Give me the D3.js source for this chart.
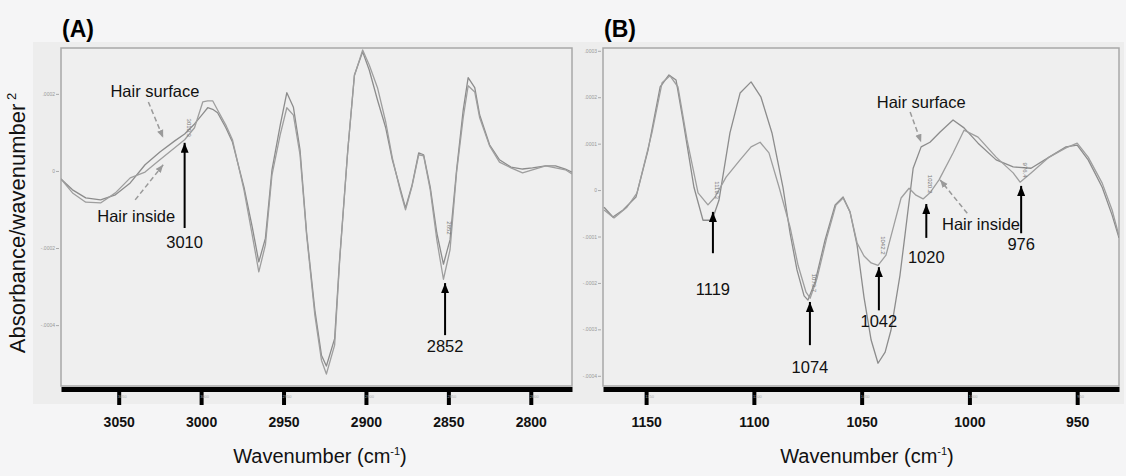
<!DOCTYPE html>
<html>
<head>
<meta charset="utf-8">
<script src="https://cdn.jsdelivr.net/npm/d3@7"></script>
<style>
  body { margin: 0; background: #f5f5f6; }
  svg { display: block; font-family: "Liberation Sans", Arial, Helvetica, sans-serif; }
</style>
</head>
<body>
<script>
//values of the second derivative spectra are kept in units of 1e-4

//panel A: wavenumbers (cm-1) shared by both spectra
var wnA = [3085,3078,3070,3061,3052,3043,3034,3025,3016,3010,3004,2999,2996,2993,2990,2985,2981,2974,2969,2965,
           2961,2957,2952,2948,2944,2940,2936,2931,2927,2924,2919,2916,2911,2907,2902,2898,2893,2888,2884,2879,
           2876,2872,2868,2865,2861,2857,2853,2849,2845,2841,2838,2834,2831,2825,2819,2812,2805,2799,2791,2785,
           2779,2775];
var surfaceA = [-0.21,-0.49,-0.70,-0.75,-0.62,-0.31,0.16,0.49,0.78,0.96,1.22,1.48,1.64,1.60,1.51,1.12,0.75,-0.42,-1.45,-2.36,
                -1.75,0.03,1.19,2.03,1.65,0.55,-1.61,-3.61,-4.78,-5.06,-4.35,-2.31,0.55,2.49,3.09,2.62,1.84,1.12,0.29,-0.49,
                -0.96,-0.36,0.47,0.42,-0.42,-1.61,-2.42,-1.79,0.03,1.58,2.42,2.16,1.45,0.68,0.29,0.10,0.05,0.08,0.13,0.13,
                0.05,-0.03];
var insideA = [-0.21,-0.57,-0.81,-0.83,-0.57,-0.18,-0.03,0.29,0.60,0.81,1.12,1.79,1.82,1.82,1.58,1.19,0.81,-0.49,-1.66,-2.62,
               -1.92,-0.10,0.94,1.64,1.45,0.42,-1.66,-3.74,-4.91,-5.27,-4.52,-2.36,0.55,2.47,3.14,2.75,2.16,1.27,0.34,-0.55,
               -1.01,-0.39,0.42,0.39,-0.49,-1.79,-2.81,-2.05,-0.03,1.38,2.21,2.05,1.38,0.65,0.23,0.08,-0.05,0.03,0.13,0.08,
               0.03,-0.08];

//panel B: [wavenumber, value] pairs
var surfaceB = [[1169.5,-0.37],[1165.4,-0.58],[1160.7,-0.43],[1154.7,-0.15],[1149.1,0.86],[1143.5,2.22],[1139.4,2.48],
                [1136.1,2.37],[1132.9,1.51],[1127.8,0.06],[1123.6,-0.65],[1119.4,-0.65],[1116.2,-0.22],[1111.1,1.23],
                [1106.4,2.09],[1101.3,2.33],[1096.7,2.00],[1091.6,1.23],[1086.5,0.06],[1083.2,-0.93],[1080.0,-1.72],
                [1076.7,-2.28],[1074.9,-2.37],[1071.6,-1.98],[1067.0,-1.08],[1062.3,-0.32],[1058.6,-0.15],[1055.4,-0.47],
                [1052.1,-1.19],[1048.9,-2.31],[1045.6,-3.23],[1042.4,-3.73],[1039.1,-3.49],[1036.4,-3.02],[1032.2,-1.83],
                [1029.9,-0.97],[1026.1,0.47],[1022.4,0.93],[1018.3,1.03],[1013.6,1.25],[1007.6,1.51],[1002.5,1.34],
                [996.0,1.01],[987.6,0.65],[979.7,0.50],[971.4,0.47],[963.0,0.71],[955.2,0.93],[950.0,0.97],
                [944.9,0.65],[938.4,0.06],[933.8,-0.54],[930.6,-1.03]];
var insideB = [[1169.5,-0.43],[1164.9,-0.60],[1158.9,-0.37],[1154.2,-0.06],[1147.3,1.23],[1142.6,2.31],[1138.9,2.46],
               [1135.2,2.22],[1131.0,1.08],[1125.9,-0.06],[1121.3,-0.32],[1118.0,-0.15],[1112.9,0.28],[1106.4,0.65],
               [1101.3,0.93],[1097.1,1.03],[1093.0,0.80],[1088.3,0.06],[1083.2,-0.80],[1079.5,-1.62],[1075.8,-2.20],
               [1073.9,-2.33],[1070.7,-1.90],[1066.1,-1.01],[1061.9,-0.32],[1058.6,-0.17],[1055.4,-0.47],[1052.1,-1.14],
               [1048.9,-1.42],[1045.6,-1.57],[1042.4,-1.62],[1038.7,-1.40],[1035.0,-0.75],[1031.7,-0.17],[1028.0,0.04],
               [1024.8,-0.11],[1021.5,-0.19],[1018.3,-0.06],[1014.1,0.22],[1007.6,0.80],[1002.5,1.29],[996.0,1.14],
               [987.6,0.71],[979.7,0.37],[976.5,0.17],[971.4,0.37],[963.0,0.71],[955.2,0.91],[950.0,1.01],
               [944.9,0.71],[938.4,0.15],[933.8,-0.43],[930.6,-0.99]];

//tick values and labels
var xTicksA = [3050, 3000, 2950, 2900, 2850, 2800];
var xTicksB = [1150, 1100, 1050, 1000, 950];
var yTicksA = [2, 0, -2, -4];
var yLabelsA = [".0002", "0", "-.0002", "-.0004"];
var yTicksB = [3, 2, 1, 0, -1, -2, -3, -4];
var yLabelsB = [".0003", ".0002", ".0001", "0", "-.0001", "-.0002", "-.0003", "-.0004"];

//marked bands: label, wavenumber, arrow tip/tail and label baseline (data units), small peak tag
var peaksA = [
  {label: "3010", wn: 3010, tip: 0.73, tail: -1.48, text: -2.0, tag: "3010.3", tagV: 1.12},
  {label: "2852", wn: 2852, tip: -2.91, tail: -4.26, text: -4.70, tag: "2852", tagV: -1.48}
];
var peaksB = [
  {label: "1119", wn: 1119, tip: -0.47, tail: -1.36, text: -2.26, tag: "1119.3", tagV: 0.0},
  {label: "1074", wn: 1074, tip: -2.41, tail: -3.34, text: -3.94, tag: "1073.7", tagV: -2.0},
  {label: "1042", wn: 1042, tip: -1.66, tail: -2.59, text: -2.95, tag: "1042.2", tagV: -1.19},
  {label: "1020", wn: 1020, tip: -0.30, tail: -1.03, text: -1.57, tag: "1020.2", tagV: 0.13},
  {label: "976", wn: 976, tip: 0.09, tail: -0.93, text: -1.29, tag: "976.4", tagV: 0.43}
];

//sample labels with dashed pointers (data units)
var hairA = [
  {text: "Hair surface", wn: 3055, v: 1.92, from: [3032, 1.79], to: [3023, 0.86]},
  {text: "Hair inside", wn: 3063, v: -1.32, from: [3040, -0.75], to: [3023, 0.16]}
];
var hairB = [
  {text: "Hair surface", wn: 1043, v: 1.77, from: [1027.5, 1.68], to: [1022.4, 1.03]},
  {text: "Hair inside", wn: 1012.7, v: -0.86, from: [1001, -0.50], to: [1013.6, 0.22]}
];

var frameTop = 48, frameBottom = 386, axisY = 389;

var svg = d3.select("body").append("svg")
  .attr("width", 1126)
  .attr("height", 476);

//arrow heads
var defs = svg.append("defs");
defs.append("marker")
  .attr("id", "headBlack")
  .attr("viewBox", "0 0 10 8")
  .attr("refX", 10).attr("refY", 4)
  .attr("markerWidth", 10).attr("markerHeight", 8)
  .attr("markerUnits", "userSpaceOnUse")
  .attr("orient", "auto")
  .append("path").attr("d", "M0,0L10,4L0,8Z").attr("fill", "#000");
defs.append("marker")
  .attr("id", "headGray")
  .attr("viewBox", "0 0 10 8")
  .attr("refX", 10).attr("refY", 4)
  .attr("markerWidth", 8).attr("markerHeight", 7)
  .attr("markerUnits", "userSpaceOnUse")
  .attr("orient", "auto")
  .append("path").attr("d", "M0,0L10,4L0,8Z").attr("fill", "#9a9a9a");

function drawPanel(p) {
  var x = p.x, y = p.y;
  var r = x.range();
  var g = svg.append("g");

  //grey backdrop of the panel
  g.append("rect")
    .attr("x", p.box[0]).attr("y", p.box[1])
    .attr("width", p.box[2]).attr("height", p.box[3])
    .attr("fill", "#ededed");

  //plot frame
  g.append("rect")
    .attr("x", r[0]).attr("y", frameTop)
    .attr("width", r[1] - r[0]).attr("height", frameBottom - frameTop)
    .attr("fill", "#efefef")
    .attr("stroke", "#a8a8a8")
    .attr("stroke-width", 1.5);

  //tiny y tick labels
  var ya = g.append("g")
    .attr("transform", "translate(" + (r[0] - 2) + ",0)")
    .call(d3.axisLeft(y).tickValues(p.yTicks)
      .tickFormat(function(d, i) { return p.yLabels[i]; })
      .tickSize(3).tickPadding(1));
  ya.select(".domain").remove();
  ya.selectAll(".tick line").attr("stroke", "#aaa");
  ya.selectAll(".tick text").attr("fill", "#999").style("font-size", "5px");

  //spectra
  g.append("clipPath").attr("id", "clip" + p.name)
    .append("rect")
    .attr("x", r[0]).attr("y", frameTop)
    .attr("width", r[1] - r[0]).attr("height", frameBottom - frameTop);
  var line = d3.line()
    .x(function(d) { return x(d[0]); })
    .y(function(d) { return y(d[1]); });
  p.series.forEach(function(s) {
    g.append("path")
      .datum(s.data)
      .attr("clip-path", "url(#clip" + p.name + ")")
      .attr("d", line)
      .attr("fill", "none")
      .attr("stroke", s.color)
      .attr("stroke-width", 1.3)
      .attr("stroke-linejoin", "round");
  });

  //thick black wavenumber axis
  var xa = g.append("g")
    .attr("transform", "translate(0," + axisY + ")")
    .call(d3.axisBottom(x).tickValues(p.xTicks)
      .tickFormat(d3.format("d"))
      .tickSize(16).tickPadding(12).tickSizeOuter(0));
  xa.select(".domain").attr("stroke", "#000").attr("stroke-width", 5);
  xa.selectAll(".tick line").attr("stroke", "#000").attr("stroke-width", 4);
  xa.selectAll(".tick text")
    .attr("fill", "#111")
    .style("font-size", "14px")
    .style("font-weight", "bold");
  xa.selectAll(".tick").append("text")
    .attr("x", 3).attr("y", 9)
    .attr("fill", "#aaa")
    .style("font-size", "4px")
    .text(function(d) { return d; });

  //panel letter
  g.append("text")
    .attr("x", r[0] + 1).attr("y", 37)
    .style("font-size", "23px")
    .style("font-weight", "bold")
    .text(p.letter);

  //axis title
  var t = g.append("text")
    .attr("x", p.titleX).attr("y", 463)
    .attr("text-anchor", "middle")
    .style("font-size", "20px")
    .attr("fill", "#111");
  t.append("tspan").text("Wavenumber (cm");
  t.append("tspan").attr("dy", -8).style("font-size", "11px").text("-1");
  t.append("tspan").attr("dy", 8).text(")");

  //marked bands
  p.peaks.forEach(function(k) {
    g.append("line")
      .attr("x1", x(k.wn)).attr("x2", x(k.wn))
      .attr("y1", y(k.tail)).attr("y2", y(k.tip))
      .attr("stroke", "#000")
      .attr("stroke-width", 2)
      .attr("marker-end", "url(#headBlack)");
    g.append("text")
      .attr("x", x(k.wn)).attr("y", y(k.text))
      .attr("text-anchor", "middle")
      .style("font-size", "16.5px")
      .attr("fill", "#111")
      .text(k.label);
    g.append("text")
      .attr("transform", "translate(" + (x(k.wn) + 2) + "," + y(k.tagV) + ") rotate(90)")
      .attr("text-anchor", "middle")
      .style("font-size", "6px")
      .attr("fill", "#777")
      .text(k.tag);
  });

  //sample labels
  p.hair.forEach(function(h) {
    g.append("line")
      .attr("x1", x(h.from[0])).attr("y1", y(h.from[1]))
      .attr("x2", x(h.to[0])).attr("y2", y(h.to[1]))
      .attr("stroke", "#9a9a9a")
      .attr("stroke-width", 1.5)
      .attr("stroke-dasharray", "5,3")
      .attr("marker-end", "url(#headGray)");
    g.append("text")
      .attr("x", x(h.wn)).attr("y", y(h.v))
      .style("font-size", "16.5px")
      .attr("fill", "#111")
      .text(h.text);
  });
}

//panel A: C-H stretching region
drawPanel({
  name: "A", letter: "(A)",
  x: d3.scaleLinear().domain([3085, 2775]).range([61, 572]),
  y: d3.scaleLinear().domain([3.19, -5.58]).range([frameTop, frameBottom]),
  box: [33, 42, 545, 362],
  series: [
    {data: d3.zip(wnA, surfaceA), color: "#8c8c8c"},
    {data: d3.zip(wnA, insideA), color: "#9e9e9e"}
  ],
  xTicks: xTicksA, yTicks: yTicksA, yLabels: yLabelsA,
  peaks: peaksA, hair: hairA, titleX: 320
});

//panel B: fingerprint region
drawPanel({
  name: "B", letter: "(B)",
  x: d3.scaleLinear().domain([1170, 930.6]).range([603, 1119]),
  y: d3.scaleLinear().domain([3.06, -4.22]).range([frameTop, frameBottom]),
  box: [578, 42, 546, 362],
  series: [
    {data: surfaceB, color: "#8c8c8c"},
    {data: insideB, color: "#9e9e9e"}
  ],
  xTicks: xTicksB, yTicks: yTicksB, yLabels: yLabelsB,
  peaks: peaksB, hair: hairB, titleX: 867
});

//shared y title
var yt = svg.append("text")
  .attr("transform", "translate(25,223) rotate(-90)")
  .attr("text-anchor", "middle")
  .style("font-size", "22px")
  .attr("fill", "#111");
yt.append("tspan").text("Absorbance/wavenumber");
yt.append("tspan").attr("dy", -9).style("font-size", "13px").text(" 2");
</script>
</body>
</html>
